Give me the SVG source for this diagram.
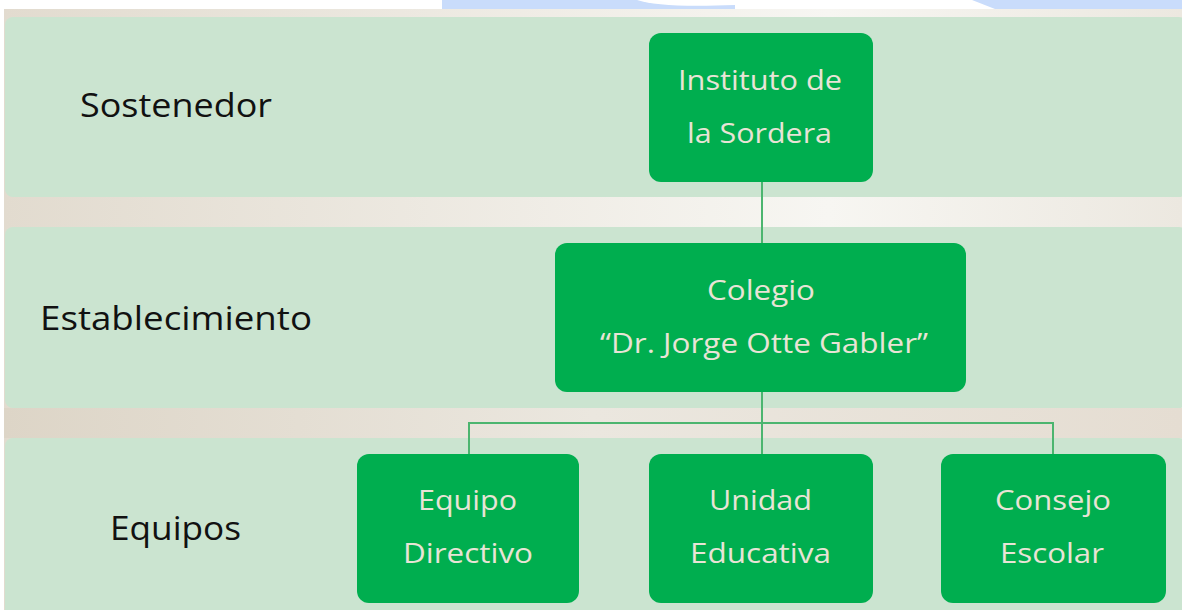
<svg xmlns="http://www.w3.org/2000/svg" width="1182" height="610" viewBox="0 0 1182 610">
<defs>
<linearGradient id="beige" x1="0" y1="0" x2="1" y2="0">
<stop offset="0" stop-color="#e2dbcf"/>
<stop offset="0.7" stop-color="#f7f6f2"/>
<stop offset="1" stop-color="#ece8e0"/>
</linearGradient>
<linearGradient id="beige2" x1="0" y1="0" x2="1" y2="0">
<stop offset="0" stop-color="#ddd5c7"/>
<stop offset="0.5" stop-color="#ebe7df"/>
<stop offset="1" stop-color="#e5ddd2"/>
</linearGradient>
<style>
.band{fill:#cbe4d0}
.box{fill:#00ae4f}
.lbl{font-family:"Open Sans","Liberation Sans",sans-serif;font-size:32px;fill:#111}
.nt{font-family:"Open Sans","Liberation Sans",sans-serif;font-size:27px;fill:#e8e4d6;text-anchor:middle}
.conn{stroke:#4cb56f;stroke-width:2;fill:none}
</style>
</defs>
<rect x="0" y="0" width="1182" height="610" fill="#ffffff"/>
<path d="M442 0 H735 V9 H442 Z" fill="#c9dcfb"/>
<path d="M637 0 Q660 8 735 5 V0 Z" fill="#ffffff"/>
<path d="M972 0 H1182 V9 H995 Z" fill="#c9dcfb"/>
<rect x="4" y="9" width="1178" height="601" fill="url(#beige)"/>
<rect x="4" y="408" width="1178" height="30" fill="url(#beige2)"/>
<rect class="band" x="5" y="17" width="1182" height="180" rx="8"/>
<rect class="band" x="5" y="227" width="1182" height="181" rx="8"/>
<rect class="band" x="5" y="438" width="1182" height="180" rx="8"/>
<text class="lbl" x="80" y="117" textLength="192" lengthAdjust="spacingAndGlyphs">Sostenedor</text>
<text class="lbl" x="40" y="330" textLength="272" lengthAdjust="spacingAndGlyphs">Establecimiento</text>
<text class="lbl" x="110" y="540" textLength="131" lengthAdjust="spacingAndGlyphs">Equipos</text>
<g id="connectors">
<line class="conn" x1="762" y1="182" x2="762" y2="243"/>
<line class="conn" x1="762" y1="392" x2="762" y2="454"/>
<polyline class="conn" points="469,454 469,423 1053,423 1053,454"/>
</g>
<g id="instituto">
<rect class="box" x="649" y="33" width="224" height="149" rx="12"/>
<text class="nt" x="760" y="90" textLength="164" lengthAdjust="spacingAndGlyphs">Instituto de</text>
<text class="nt" x="759.5" y="143" textLength="145" lengthAdjust="spacingAndGlyphs">la Sordera</text>
</g>
<g id="colegio">
<rect class="box" x="555" y="243" width="411" height="149" rx="12"/>
<text class="nt" x="761" y="300" textLength="108" lengthAdjust="spacingAndGlyphs">Colegio</text>
<text class="nt" x="764" y="353" textLength="328" lengthAdjust="spacingAndGlyphs">“Dr. Jorge Otte Gabler”</text>
</g>
<g id="equipo">
<rect class="box" x="357" y="454" width="222" height="149" rx="12"/>
<text class="nt" x="467.5" y="510" textLength="99" lengthAdjust="spacingAndGlyphs">Equipo</text>
<text class="nt" x="468" y="563" textLength="130" lengthAdjust="spacingAndGlyphs">Directivo</text>
</g>
<g id="unidad">
<rect class="box" x="649" y="454" width="224" height="149" rx="12"/>
<text class="nt" x="760.5" y="510" textLength="103" lengthAdjust="spacingAndGlyphs">Unidad</text>
<text class="nt" x="760.5" y="563" textLength="141" lengthAdjust="spacingAndGlyphs">Educativa</text>
</g>
<g id="consejo">
<rect class="box" x="941" y="454" width="225" height="149" rx="12"/>
<text class="nt" x="1053" y="510" textLength="116" lengthAdjust="spacingAndGlyphs">Consejo</text>
<text class="nt" x="1052" y="563" textLength="104" lengthAdjust="spacingAndGlyphs">Escolar</text>
</g>
</svg>
